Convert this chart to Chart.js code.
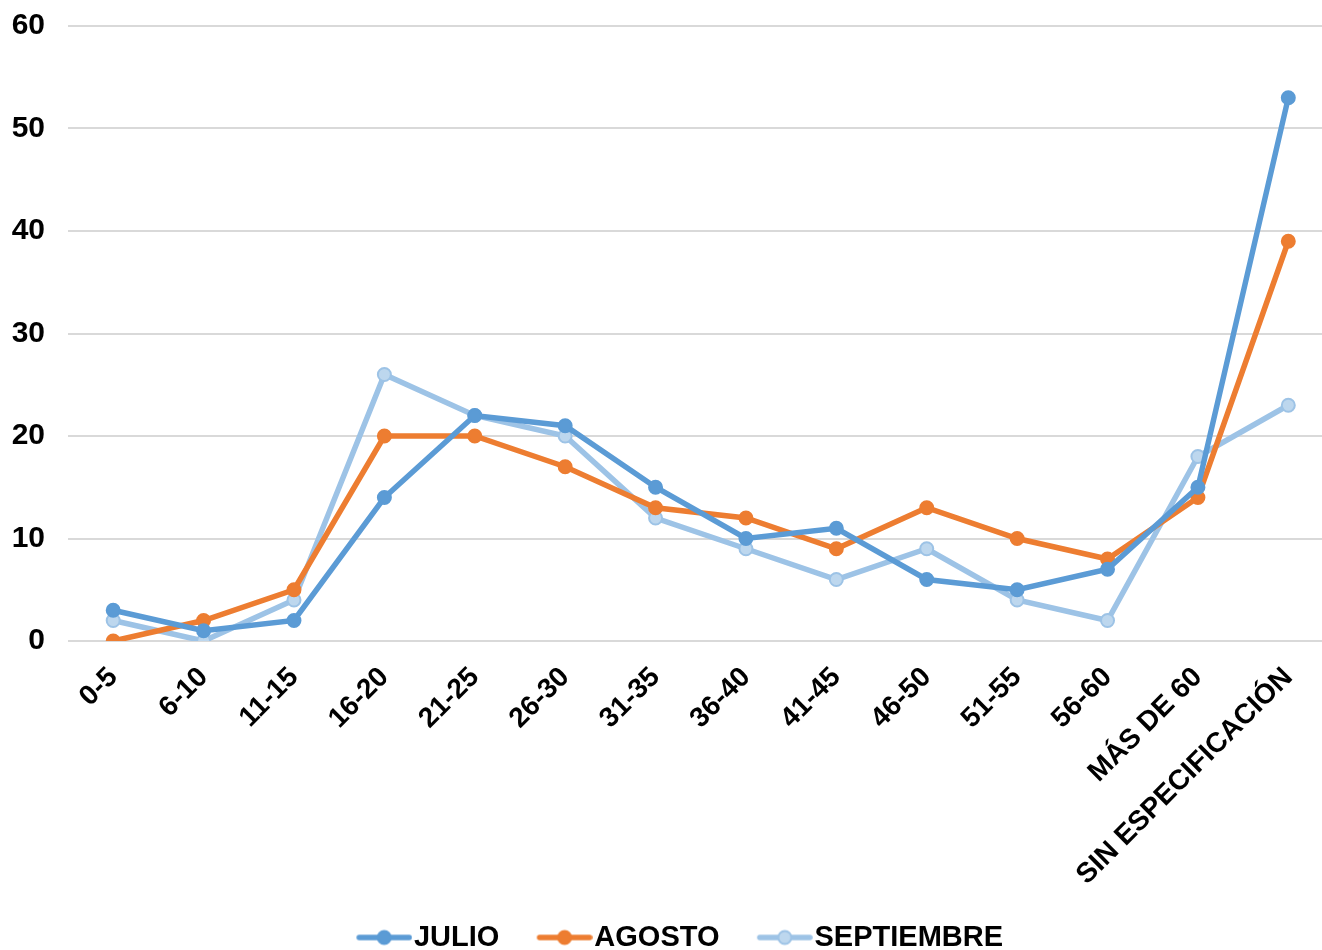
<!DOCTYPE html>
<html>
<head>
<meta charset="utf-8">
<script src="https://cdn.jsdelivr.net/npm/chart.js@4"></script>
<style>
  html, body { margin:0; padding:0; background:#fff; overflow:hidden; width:1322px; height:950px; }
</style>
</head>
<body>
<canvas id="c" width="1342" height="962"></canvas>
<script>
// Age groups and monthly counts.
const categories = ['0-5','6-10','11-15','16-20','21-25','26-30','31-35','36-40','41-45','46-50','51-55','56-60','MÁS DE 60','SIN ESPECIFICACIÓN'];
const julio      = [3, 1, 2, 14, 22, 21, 15, 10, 11, 6, 5, 7, 15, 53];
const agosto     = [0, 2, 5, 20, 20, 17, 13, 12, 9, 13, 10, 8, 14, 39];
const septiembre = [2, 0, 4, 26, 22, 20, 12, 9, 6, 9, 4, 2, 18, 23];
const yTicks     = [0, 10, 20, 30, 40, 50, 60];

const FONT = '"Liberation Sans", Arial, sans-serif';

// line+marker swatch for the legend; drawn in the right part of a wider
// canvas so the legend spacing comes out like the original
function swatch(line, fill){
  const cv = document.createElement('canvas');
  cv.width = 86; cv.height = 18;
  const g = cv.getContext('2d');
  const ox = 30;
  g.strokeStyle = line; g.lineWidth = 5.5; g.lineCap = 'round';
  g.beginPath(); g.moveTo(ox + 3, 9); g.lineTo(ox + 53, 9); g.stroke();
  g.fillStyle = fill; g.strokeStyle = line; g.lineWidth = 2;
  g.beginPath(); g.arc(ox + 28, 9, 6.5, 0, Math.PI*2); g.fill(); g.stroke();
  return cv;
}

function series(label, data, line, fill){
  return {
    label, data,
    borderColor: line, backgroundColor: fill,
    pointBackgroundColor: fill, pointBorderColor: line,
    borderWidth: 5.5, pointRadius: 6.5, pointBorderWidth: 2,
    tension: 0, fill: false
  };
}

const swatches = [swatch('#5B9BD5','#5B9BD5'), swatch('#ED7D31','#ED7D31'), swatch('#9DC3E6','#BDD7EE')];

new Chart(document.getElementById('c'), {
  type: 'line',
  data: {
    labels: categories,
    datasets: [
      series('JULIO', julio, '#5B9BD5', '#5B9BD5'),
      series('AGOSTO', agosto, '#ED7D31', '#ED7D31'),
      series('SEPTIEMBRE', septiembre, '#9DC3E6', '#BDD7EE')
    ]
  },
  options: {
    responsive: false,
    animation: false,
    layout: { padding: 0 },
    plugins: {
      tooltip: { enabled: false },
      legend: {
        position: 'bottom',
        labels: {
          color: '#000',
          font: { family: FONT, size: 29, weight: 'bold' },
          usePointStyle: true,
          pointStyleWidth: 60.5,
          padding: 20,
          generateLabels(chart){
            return chart.data.datasets.map((ds, i) => ({
              text: ds.label, datasetIndex: i,
              pointStyle: swatches[i], fontColor: '#000',
              lineWidth: 0, strokeStyle: 'transparent', fillStyle: 'transparent'
            }));
          }
        }
      }
    },
    scales: {
      x: {
        offset: true,
        grid: { display: false },
        border: { display: false },
        ticks: {
          color: '#000', autoSkip: false, maxRotation: 45, minRotation: 45, padding: 12,
          font: { family: FONT, size: 28, weight: 'bold' }
        },
        afterFit(s){ s.height = 262; }
      },
      y: {
        min: 0, max: 60,
        afterBuildTicks(s){ s.ticks = yTicks.map(v => ({ value: v })); },
        grid: { color: '#d9d9d9', lineWidth: 2, drawTicks: false },
        border: { display: false },
        ticks: {
          color: '#000', padding: 23,
          font: { family: FONT, size: 30, weight: 'bold' }
        },
        afterFit(s){ s.width = 68; s.paddingTop = 26; }
      }
    }
  }
});
</script>
</body>
</html>
